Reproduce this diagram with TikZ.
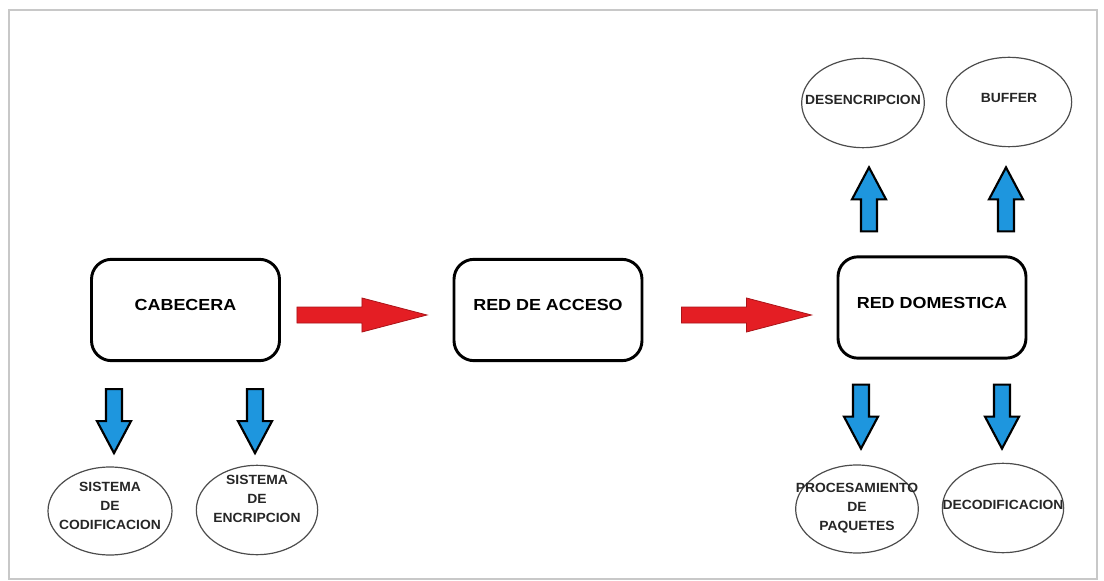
\documentclass[tikz,border=0pt]{standalone}
\usepackage{fontspec}
\setmainfont{Liberation Sans}
\newfontfamily\lblfont[FakeStretch=1.12]{Liberation Sans}
\newfontfamily\ovalfont[FakeStretch=1.04]{Liberation Sans}
\usetikzlibrary{calc,shapes.geometric}
\definecolor{arrowblue}{RGB}{30,150,222}
\definecolor{arrowred}{RGB}{228,30,36}
\definecolor{darkred}{RGB}{170,20,25}
\definecolor{framegray}{RGB}{200,200,200}
\tikzset{
  block/.style={draw=black, line width=2.2pt, rounded corners=15pt, fill=white,
    minimum width=141pt, minimum height=76pt, inner sep=0pt,
    font=\lblfont\bfseries\fontsize{12}{14}\selectfont, text height=9pt, text depth=8pt},
  oval/.style={draw=black!70, line width=0.9pt, ellipse, inner sep=0pt},
  ovaltext/.style={align=center, inner sep=0pt,
    font=\ovalfont\bfseries\fontsize{10}{14.2}\selectfont, text=black!85},
  bluefill/.style={fill=arrowblue, draw=black, line width=1.6pt, line join=miter},
  redfill/.style={fill=arrowred, draw=darkred, line width=0.6pt, line join=miter},
  barrow/.pic={\path[bluefill] (-8,0) -- (8,0) -- (8,32) -- (17,32) -- (0,64) -- (-17,32) -- (-8,32) -- cycle;},
  rarrow/.pic={\path[redfill] (0,-8) -- (65,-8) -- (65,-17) -- (130,0) -- (65,17) -- (65,8) -- (0,8) -- cycle;}
}
\begin{document}
\begin{tikzpicture}[x=0.75pt, y=-0.75pt]
\useasboundingbox (0,0) rectangle (1104,581);
\draw[framegray, line width=1.5pt] (9,10) rectangle (1097,579);

% main blocks
\node[block] (cab) at (185.5,310) {CABECERA};
\node[block] (acc) at (548,310) {RED DE ACCESO};
\node[block] (dom) at (932,307.5) {RED DOMESTICA};

% red connectors
\pic at ($(cab.east)+(16,5)$) {rarrow};
\pic at ($(acc.east)+(38,5)$) {rarrow};

% ellipses
\node[oval, minimum width=93pt, minimum height=66pt] (cod) at (110,511) {};
\node[ovaltext] (codt) at (110,506) {SISTEMA\\DE\\CODIFICACION};
\node[oval, minimum width=91pt, minimum height=67pt] (enc) at (257,510) {};
\node[ovaltext] (enct) at (257,499) {SISTEMA\\DE\\ENCRIPCION};
\node[oval, minimum width=92pt, minimum height=67pt] (des) at (863,103) {};
\node[ovaltext] (dest) at (863,100) {DESENCRIPCION};
\node[oval, minimum width=94pt, minimum height=67pt] (buf) at (1009,102) {};
\node[ovaltext] (buft) at (1009,98) {BUFFER};
\node[oval, minimum width=92pt, minimum height=66pt] (paq) at (857,509) {};
\node[ovaltext] (paqt) at (857,508) {PROCESAMIENTO\\DE\\PAQUETES};
\node[oval, minimum width=91pt, minimum height=67pt] (dec) at (1003,508) {};
\node[ovaltext] (dect) at (1003,505) {DECODIFICACION};

% blue connectors
\pic at ($(cab.south)+(-71.5,27)$) {barrow};
\pic at ($(cab.south)+(69.5,27)$) {barrow};
\pic at ($(dom.south)+(-71,25)$) {barrow};
\pic at ($(dom.south)+(70,25)$) {barrow};
\pic[rotate=180] at ($(dom.north)+(-63,-24)$) {barrow};
\pic[rotate=180] at ($(dom.north)+(74,-24)$) {barrow};
\end{tikzpicture}
\end{document}
